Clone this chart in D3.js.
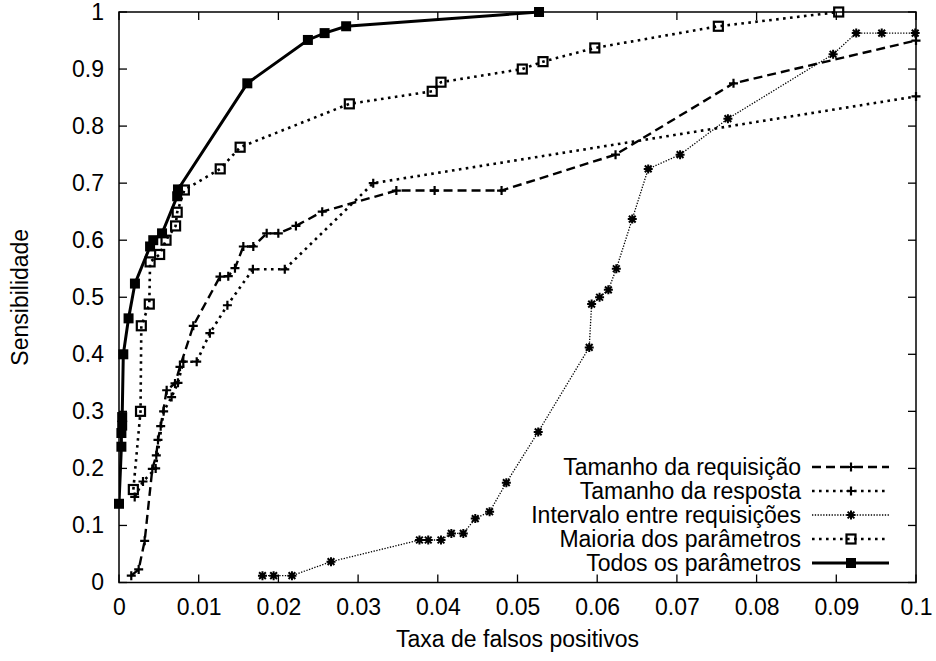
<!DOCTYPE html>
<html>
<head>
<meta charset="utf-8">
<script src="https://cdn.jsdelivr.net/npm/d3@7"></script>
<style>
html,body{margin:0;padding:0;background:#fff;}
text{font-family:"Liberation Sans",Arial,Helvetica,sans-serif;fill:#000;}
</style>
</head>
<body>
<svg id="chart" width="936" height="661"></svg>
<script>
const xTicks = [0,0.01,0.02,0.03,0.04,0.05,0.06,0.07,0.08,0.09,0.1];
const yTicks = [0,0.1,0.2,0.3,0.4,0.5,0.6,0.7,0.8,0.9,1];
const xTickLabels = ["0","0.01","0.02","0.03","0.04","0.05","0.06","0.07","0.08","0.09","0.1"];
const yTickLabels = ["0","0.1","0.2","0.3","0.4","0.5","0.6","0.7","0.8","0.9","1"];

const seriesNames = ["Tamanho da requisição","Tamanho da resposta","Intervalo entre requisições","Maioria dos parâmetros","Todos os parâmetros"];

const requisicao = [
 [0.00154,0.012],[0.00247,0.023],[0.00322,0.073],[0.00418,0.199],[0.00468,0.223],[0.00489,0.25],
 [0.00523,0.274],[0.00598,0.337],[0.00703,0.349],[0.00765,0.378],[0.00932,0.45],[0.01267,0.536],
 [0.01371,0.537],[0.01455,0.551],[0.0156,0.589],[0.01685,0.589],[0.01853,0.612],[0.01999,0.612],
 [0.0222,0.625],[0.0255,0.65],[0.0348,0.687],[0.0396,0.687],[0.048,0.687],[0.0623,0.75],
 [0.0771,0.875],[0.1,0.95]
];
const resposta = [
 [0.00197,0.150],[0.00301,0.177],[0.0046,0.2],[0.0056,0.30],[0.0066,0.325],[0.0074,0.35],
 [0.00807,0.387],[0.00975,0.387],[0.0114,0.437],[0.0136,0.486],[0.0168,0.549],[0.0208,0.549],
 [0.0319,0.70],[0.1,0.852]
];
const intervalo = [
 [0.018,0.012],[0.0194,0.012],[0.0217,0.012],[0.0266,0.0365],[0.0377,0.0745],[0.0388,0.0745],
 [0.0404,0.0745],[0.0417,0.086],[0.0432,0.086],[0.0447,0.112],[0.0465,0.124],[0.0486,0.175],
 [0.0526,0.264],[0.059,0.412],[0.0593,0.488],[0.0603,0.5],[0.0614,0.513],[0.0624,0.55],
 [0.0644,0.637],[0.0664,0.725],[0.0704,0.75],[0.0764,0.813],[0.0896,0.926],[0.0925,0.963],
 [0.0957,0.963],[0.0999,0.963]
];
const maioria = [
 [0.0018,0.163],[0.0027,0.30],[0.0028,0.45],[0.0038,0.488],[0.0039,0.562],[0.0051,0.575],
 [0.0059,0.600],[0.0071,0.625],[0.0073,0.649],[0.0082,0.688],[0.0127,0.725],[0.0152,0.763],
 [0.0289,0.839],[0.0393,0.861],[0.0404,0.877],[0.0506,0.900],[0.0532,0.913],[0.0597,0.937],
 [0.0752,0.975],[0.0903,1.0]
];
const todos = [
 [0.0,0.138],[0.0003,0.238],[0.0003,0.262],[0.0004,0.275],[0.0004,0.29],[0.00054,0.40],
 [0.0012,0.463],[0.002,0.524],[0.0039,0.589],[0.0043,0.600],[0.0054,0.612],[0.0073,0.677],
 [0.0074,0.689],[0.0161,0.875],[0.0237,0.951],[0.0258,0.963],[0.0285,0.975],[0.0527,1.0]
];

const svg = d3.select("#chart");
const L = 119, R = 916, T = 12, B = 582.5;
const x = d3.scaleLinear().domain([0,0.1]).range([L,R]);
const y = d3.scaleLinear().domain([0,1]).range([B,T]);
const FS = 23;

const styles = [
 {data:requisicao, dash:"9,5", w:2.4, marker:"plus"},
 {data:resposta, dash:"2.6,4.4", w:2.6, marker:"plus"},
 {data:intervalo, dash:"1.3,1.5", w:1.3, marker:"star"},
 {data:maioria, dash:"2.6,4.4", w:2.6, marker:"box"},
 {data:todos, dash:null, w:3, marker:"fbox"}
];

// ticks (inner, mirrored)
const tk = 8;
const g = svg.append("g");
xTicks.forEach(v=>{
  g.append("line").attr("x1",x(v)).attr("x2",x(v)).attr("y1",B).attr("y2",B-tk).attr("stroke","#000").attr("stroke-width",1.3);
  g.append("line").attr("x1",x(v)).attr("x2",x(v)).attr("y1",T).attr("y2",T+tk).attr("stroke","#000").attr("stroke-width",1.3);
});
yTicks.forEach(v=>{
  g.append("line").attr("x1",L).attr("x2",L+tk).attr("y1",y(v)).attr("y2",y(v)).attr("stroke","#000").attr("stroke-width",1.3);
  g.append("line").attr("x1",R).attr("x2",R-tk).attr("y1",y(v)).attr("y2",y(v)).attr("stroke","#000").attr("stroke-width",1.3);
});
const xAxis = d3.axisBottom(x).tickValues(xTicks).tickFormat((d,i)=>xTickLabels[i]).tickSize(0).tickPadding(16);
const yAxis = d3.axisLeft(y).tickValues(yTicks).tickFormat((d,i)=>yTickLabels[i]).tickSize(0).tickPadding(15);
const gx = svg.append("g").attr("transform",`translate(0,${B})`).call(xAxis);
const gy = svg.append("g").attr("transform",`translate(${L},0)`).call(yAxis);
[gx,gy].forEach(a=>{a.select(".domain").remove(); a.selectAll("text").style("font-size",FS+"px").style("font-family",'"Liberation Sans",Arial,sans-serif').attr("fill","#000");});

svg.append("defs").append("clipPath").attr("id","clip").append("rect").attr("x",L).attr("y",T-6).attr("width",R-L).attr("height",B-T+12);

const line = d3.line().x(d=>x(d[0])).y(d=>y(d[1]));
const plot = svg.append("g");

function drawMarker(sel, type, cx, cy){
  const s = 4.5;
  if(type==="plus"){
    sel.append("path").attr("d",`M${cx-s},${cy}H${cx+s}M${cx},${cy-s}V${cy+s}`).attr("stroke","#000").attr("stroke-width",2.2).attr("fill","none");
  } else if(type==="star"){
    const d = s*0.75;
    sel.append("path").attr("d",`M${cx-s},${cy}H${cx+s}M${cx},${cy-s}V${cy+s}M${cx-d},${cy-d}L${cx+d},${cy+d}M${cx-d},${cy+d}L${cx+d},${cy-d}`).attr("stroke","#000").attr("stroke-width",2).attr("fill","none");
  } else if(type==="box"){
    sel.append("rect").attr("x",cx-4.5).attr("y",cy-4.5).attr("width",9).attr("height",9).attr("fill","none").attr("stroke","#000").attr("stroke-width",2.2);
  } else if(type==="fbox"){
    sel.append("rect").attr("x",cx-5).attr("y",cy-5).attr("width",10).attr("height",10).attr("fill","#000");
  }
}

styles.forEach(st=>{
  const p = plot.append("path").datum(st.data).attr("d",line).attr("fill","none").attr("stroke","#000").attr("stroke-width",st.w).attr("clip-path","url(#clip)");
  if(st.dash) p.attr("stroke-dasharray",st.dash);
  st.data.forEach(d=>drawMarker(plot, st.marker, x(d[0]), y(d[1])));
});

// border
svg.append("rect").attr("x",L).attr("y",T).attr("width",R-L).attr("height",B-T).attr("fill","none").attr("stroke","#000").attr("stroke-width",1.5);

// legend
const legY0 = 467, legDy = 24;
seriesNames.forEach((nm,i)=>{
  const yy = legY0 + i*legDy;
  svg.append("text").attr("x",801).attr("y",yy).attr("dy","0.35em").attr("text-anchor","end").style("font-size",FS+"px").text(nm);
  const st = styles[i];
  const l = svg.append("line").attr("x1",812).attr("x2",889).attr("y1",yy).attr("y2",yy).attr("stroke","#000").attr("stroke-width",st.w);
  if(st.dash) l.attr("stroke-dasharray",st.dash);
  drawMarker(svg, st.marker, 851, yy);
});

// axis titles
svg.append("text").attr("x",(L+R)/2).attr("y",639).attr("dy","0.35em").attr("text-anchor","middle").style("font-size",FS+"px").text("Taxa de falsos positivos");
svg.append("text").attr("transform",`translate(20,${(T+B)/2}) rotate(-90)`).attr("dy","0.35em").attr("text-anchor","middle").style("font-size",FS+"px").text("Sensibilidade");
</script>
</body>
</html>
